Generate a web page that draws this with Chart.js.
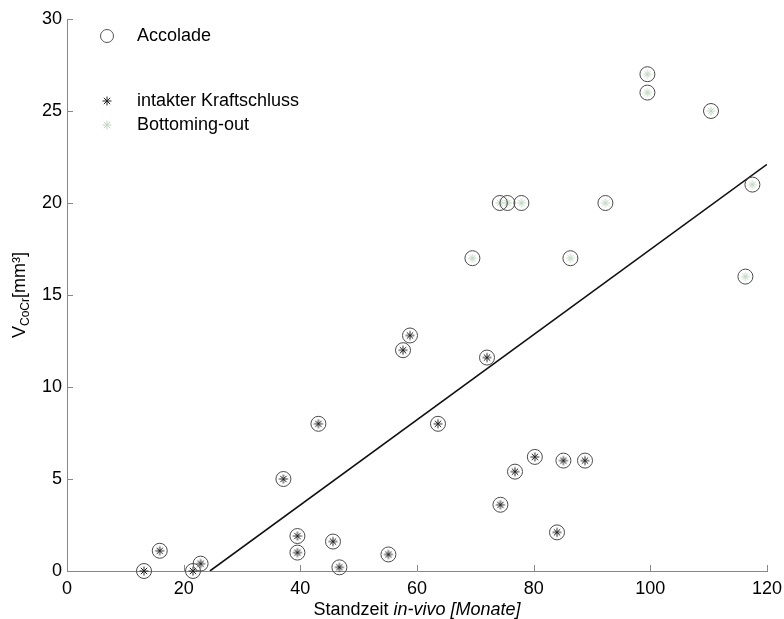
<!DOCTYPE html>
<html>
<head>
<meta charset="utf-8">
<script src="https://cdn.jsdelivr.net/npm/chart.js@4.4.1/dist/chart.umd.min.js"></script>
<style>
  html, body { margin: 0; padding: 0; background: #fff; }
  #wrap { width: 784px; height: 619px; }
</style>
</head>
<body>
<div id="wrap"><canvas id="mainChart" width="784" height="619"></canvas></div>
<script>
// Werte
const intaktX = [13.2, 15.9, 21.6, 22.9, 37.1, 39.5, 39.5, 43.1, 45.6, 46.7, 55.1, 57.6, 58.8, 63.6, 72.0, 74.3, 76.8, 80.2, 84.0, 85.1, 88.8];
const intaktY = [0, 1.1, 0, 0.4, 5.0, 1.9, 1.0, 8.0, 1.6, 0.2, 0.9, 12.0, 12.8, 8.0, 11.6, 3.6, 5.4, 6.2, 2.1, 6.0, 6.0];
const bottomX = [69.5, 74.2, 75.5, 77.9, 86.3, 92.3, 99.5, 99.5, 110.4, 116.3, 117.5];
const bottomY = [17, 20, 20, 20, 17, 20, 26, 27, 25, 16, 21];
const fitX = [24.5, 120];
const fitY = [0, 22.1];
const xTicks = [0, 20, 40, 60, 80, 100, 120];
const yTicks = [0, 5, 10, 15, 20, 25, 30];

const FONT = "'Liberation Sans', Arial, sans-serif";
const toPoints = (xs, ys) => xs.map((x, i) => ({ x: x, y: ys[i] }));

const accolade = toPoints(intaktX, intaktY).concat(toPoints(bottomX, bottomY));

// Sternchen wie in MATLAB zeichnen
function drawStar(ctx, x, y, r, color) {
    ctx.save();
    ctx.strokeStyle = color;
    ctx.lineWidth = 1;
    ctx.beginPath();
    for (let k = 0; k < 4; k++) {
        const a = k * Math.PI / 4;
        ctx.moveTo(x - r * Math.cos(a), y - r * Math.sin(a));
        ctx.lineTo(x + r * Math.cos(a), y + r * Math.sin(a));
    }
    ctx.stroke();
    ctx.restore();
}

const decorPlugin = {
    id: 'decor',
    afterDraw(chart) {
        const ctx = chart.ctx;
        const xs = chart.scales.x, ys = chart.scales.y;
        const area = chart.chartArea;

        // Ticks nach innen
        ctx.save();
        ctx.strokeStyle = '#888';
        ctx.lineWidth = 1;
        ctx.beginPath();
        xTicks.forEach(v => {
            const px = Math.round(xs.getPixelForValue(v)) + 0.5;
            ctx.moveTo(px, area.bottom);
            ctx.lineTo(px, area.bottom - 6);
        });
        yTicks.forEach(v => {
            const py = Math.round(ys.getPixelForValue(v)) + 0.5;
            ctx.moveTo(area.left, py);
            ctx.lineTo(area.left + 6, py);
        });
        ctx.stroke();
        ctx.restore();

        // Legende
        ctx.save();
        ctx.strokeStyle = '#555';
        ctx.lineWidth = 1;
        ctx.beginPath();
        ctx.arc(107, 36, 6.5, 0, Math.PI * 2);
        ctx.stroke();
        drawStar(ctx, 107, 101, 4.5, '#222');
        drawStar(ctx, 107, 125, 4.5, '#c0d6c0');
        ctx.fillStyle = '#000';
        ctx.font = '18px ' + FONT;
        ctx.textBaseline = 'middle';
        ctx.textAlign = 'left';
        ctx.fillText('Accolade', 137, 36);
        ctx.fillText('intakter Kraftschluss', 137, 101);
        ctx.fillText('Bottoming-out', 137, 125);

        // x-Achsentitel
        const t1 = 'Standzeit ', t2 = 'in-vivo [Monate]';
        ctx.textBaseline = 'alphabetic';
        ctx.font = '18px ' + FONT;
        const w1 = ctx.measureText(t1).width;
        ctx.font = 'italic 18px ' + FONT;
        const w2 = ctx.measureText(t2).width;
        const cx = (area.left + area.right) / 2;
        let sx = cx - (w1 + w2) / 2;
        ctx.font = '18px ' + FONT;
        ctx.fillText(t1, sx, 615);
        ctx.font = 'italic 18px ' + FONT;
        ctx.fillText(t2, sx + w1, 615);

        // y-Achsentitel
        ctx.translate(25, (area.top + area.bottom) / 2);
        ctx.rotate(-Math.PI / 2);
        ctx.font = '18px ' + FONT;
        const wV = ctx.measureText('V').width;
        const wU = ctx.measureText('[mm³]').width;
        ctx.font = '12px ' + FONT;
        const wS = ctx.measureText('CoCr').width;
        let tx = -(wV + wS + wU) / 2;
        ctx.font = '18px ' + FONT;
        ctx.fillText('V', tx, 0);
        ctx.font = '12px ' + FONT;
        ctx.fillText('CoCr', tx + wV, 4);
        ctx.font = '18px ' + FONT;
        ctx.fillText('[mm³]', tx + wV + wS, 0);
        ctx.restore();
    }
};

const starPoint = (color) => {
    const c = document.createElement('canvas');
    c.width = 12; c.height = 12;
    drawStar(c.getContext('2d'), 6, 6, 4.5, color);
    return c;
};

new Chart(document.getElementById('mainChart').getContext('2d'), {
    type: 'scatter',
    data: {
        datasets: [
            {
                label: 'Accolade',
                data: accolade,
                pointStyle: 'circle',
                pointRadius: 7.5,
                pointBorderColor: '#4a4a4a',
                pointBackgroundColor: 'rgba(0,0,0,0)',
                pointBorderWidth: 1,
                clip: false
            },
            {
                label: 'intakter Kraftschluss',
                data: toPoints(intaktX, intaktY),
                pointStyle: starPoint('#222'),
                pointRadius: 5,
                clip: false
            },
            {
                label: 'Bottoming-out',
                data: toPoints(bottomX, bottomY),
                pointStyle: starPoint('#c0d6c0'),
                pointRadius: 5,
                clip: false
            },
            {
                type: 'line',
                label: 'fit',
                data: toPoints(fitX, fitY),
                borderColor: '#111',
                borderWidth: 1.6,
                pointRadius: 0,
                fill: false
            }
        ]
    },
    options: {
        responsive: false,
        animation: false,
        events: [],
        layout: { padding: { top: 19, right: 17, left: 0, bottom: 0 } },
        plugins: {
            legend: { display: false },
            tooltip: { enabled: false }
        },
        scales: {
            x: {
                type: 'linear',
                min: 0,
                max: 120,
                afterFit: s => { s.height = 48; s.paddingLeft = 0; s.paddingRight = 0; },
                afterBuildTicks: s => { s.ticks = xTicks.map(v => ({ value: v })); },
                grid: { display: false, drawTicks: false },
                border: { display: true, color: '#888', width: 1 },
                ticks: { color: '#000', padding: 7, font: { size: 18, family: FONT } }
            },
            y: {
                type: 'linear',
                min: 0,
                max: 30,
                afterFit: s => { s.width = 67; s.paddingTop = 0; s.paddingBottom = 0; },
                afterBuildTicks: s => { s.ticks = yTicks.map(v => ({ value: v })); },
                grid: { display: false, drawTicks: false },
                border: { display: true, color: '#888', width: 1 },
                ticks: { color: '#000', padding: 5, font: { size: 18, family: FONT } }
            }
        }
    },
    plugins: [decorPlugin]
});
</script>
</body>
</html>
